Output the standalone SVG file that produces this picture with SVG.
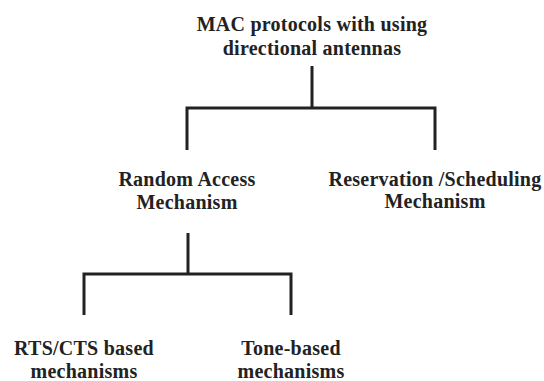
<svg xmlns="http://www.w3.org/2000/svg" width="544" height="381" viewBox="0 0 544 381">
<style>
text{font-family:"Liberation Serif","Times New Roman",serif;font-weight:bold;font-size:20px;fill:#222;text-anchor:middle;letter-spacing:0.25px}
.c{stroke:#222;stroke-width:3;fill:none;stroke-linecap:butt}
</style>
<rect width="544" height="381" fill="#fff"/>
<g id="root"><text x="312" y="31">MAC protocols with using</text><text x="312" y="55">directional antennas</text></g>
<g id="random"><text x="187" y="186">Random Access</text><text x="187" y="209">Mechanism</text></g>
<g id="reservation"><text x="435" y="186">Reservation /Scheduling</text><text x="435" y="208">Mechanism</text></g>
<g id="rts"><text x="84" y="355">RTS/CTS based</text><text x="84" y="378">mechanisms</text></g>
<g id="tone"><text x="291" y="355">Tone-based</text><text x="291" y="378">mechanisms</text></g>
<g id="connectors">
<path class="c" d="M312 66V108M187 150V108H435V150"/>
<path class="c" d="M188 233V274M84 315V274H291V315"/>
</g>
</svg>
